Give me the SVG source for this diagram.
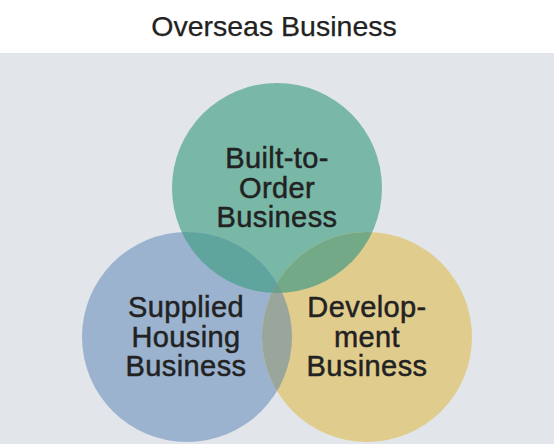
<svg xmlns="http://www.w3.org/2000/svg" width="554" height="444" viewBox="0 0 554 444">
<style>
.t{font-family:"Liberation Sans",Arial,sans-serif;fill:#222;text-anchor:middle}
.lbl{font-size:29px;letter-spacing:0.4px;stroke:#222;stroke-width:0.5}
.title{font-size:28.5px;stroke:#222;stroke-width:0.25}
</style>
<defs>
<clipPath id="cG"><circle cx="277" cy="188" r="105"/></clipPath>
<clipPath id="cB"><circle cx="187" cy="337" r="105"/></clipPath>
<clipPath id="cY"><circle cx="367" cy="337" r="105"/></clipPath>
</defs>
<rect x="0" y="0" width="554" height="444" fill="#ffffff"/>
<rect x="0" y="53" width="554" height="391" fill="#e2e6ea"/>
<text class="t title" x="274" y="36">Overseas Business</text>
<g id="circles">
<g id="node-built">
<circle cx="277" cy="188" r="105" fill="#79b8a7"/>
</g>
<g id="node-supplied">
<circle cx="187" cy="337" r="105" fill="#9bb3cf"/>
</g>
<g id="node-development">
<circle cx="367" cy="337" r="105" fill="#e0cd8e"/>
</g>
<g id="overlaps">
<g clip-path="url(#cG)"><circle cx="187" cy="337" r="105" fill="#5fa59e"/><circle cx="367" cy="337" r="105" fill="#74a987"/></g>
<g clip-path="url(#cB)"><circle cx="367" cy="337" r="105" fill="#9aa59c"/></g>
<g clip-path="url(#cB)"><g clip-path="url(#cY)"><circle cx="277" cy="188" r="105" fill="#6c9e8e"/></g></g>
</g>
</g>
<g id="labels">
<text class="t lbl" x="277" y="168">Built-to-</text>
<text class="t lbl" x="277" y="198">Order</text>
<text class="t lbl" x="277" y="227">Business</text>
<text class="t lbl" x="186" y="317">Supplied</text>
<text class="t lbl" x="186" y="347">Housing</text>
<text class="t lbl" x="186" y="376">Business</text>
<text class="t lbl" x="367" y="317">Develop-</text>
<text class="t lbl" x="367" y="347">ment</text>
<text class="t lbl" x="367" y="376">Business</text>
</g>
<g id="connectors"></g>
</svg>
